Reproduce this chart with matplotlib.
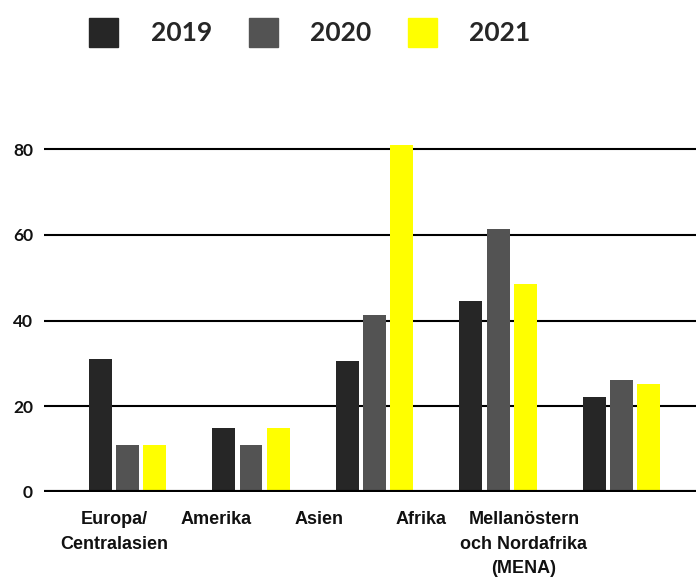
import numpy as np
import matplotlib.pyplot as plt
from matplotlib.patches import Rectangle

# data
regions = ['Europa/\nCentralasien', 'Amerika', 'Asien', 'Afrika',
           'Mellanöstern\noch Nordafrika\n(MENA)']
years = ['2019', '2020', '2021']
v2019 = [31, 15, 30.6, 44.6, 22.2]
v2020 = [11, 11, 41.3, 61.4, 26.1]
v2021 = [11, 15, 81, 48.6, 25.2]
colors = ['#262626', '#535353', '#ffff00']

fig = plt.figure(figsize=(6.96, 5.88), dpi=100)
ax = fig.add_axes([44 / 696, 96 / 588, 1 - 44 / 696, (492 - 127.9) / 588])

x = np.arange(len(regions))
width = 0.186
step = 0.219
for i, vals in enumerate([v2019, v2020, v2021]):
    ax.bar(x + (i - 1) * step, vals, width, color=colors[i], zorder=3)

ax.set_xlim(-0.676, 4.603)
ax.set_ylim(0, 85)

ax.set_yticks([0, 20, 40, 60, 80])
ax.yaxis.grid(True, color='black', linewidth=1.5, zorder=1)
ax.axhline(0, color='black', linewidth=3, zorder=4)
ax.tick_params(axis='y', length=0, pad=8, labelsize=12.5, labelcolor='#111111')
for lab in ax.get_yticklabels():
    lab.set_fontfamily(['Lato', 'DejaVu Sans'])
    lab.set_fontweight('bold')

# category labels sit a bit left of the bar groups in the original
label_pos = np.arange(len(regions)) * 0.83 - 0.11
ax.set_xticks(label_pos)
ax.set_xticklabels(regions, fontsize=13, fontweight='bold',
                   family=['Liberation Sans', 'DejaVu Sans'],
                   linespacing=1.55, color='#111111')
ax.tick_params(axis='x', length=0, pad=14)

for s in ax.spines.values():
    s.set_visible(False)

# legend drawn by hand across the top
sq_x = [89, 249, 408]
tx_x = [151, 310, 469]
for i, yr in enumerate(years):
    fig.patches.append(Rectangle((sq_x[i] / 696, 1 - 47 / 588), 29 / 696, 29 / 588,
                                 transform=fig.transFigure, color=colors[i]))
    fig.text(tx_x[i] / 696, 1 - 33 / 588, yr, fontsize=19, fontweight='bold',
             family=['Lato', 'DejaVu Sans'], color='#262626', va='center')

fig.savefig('out.png', dpi=100)
